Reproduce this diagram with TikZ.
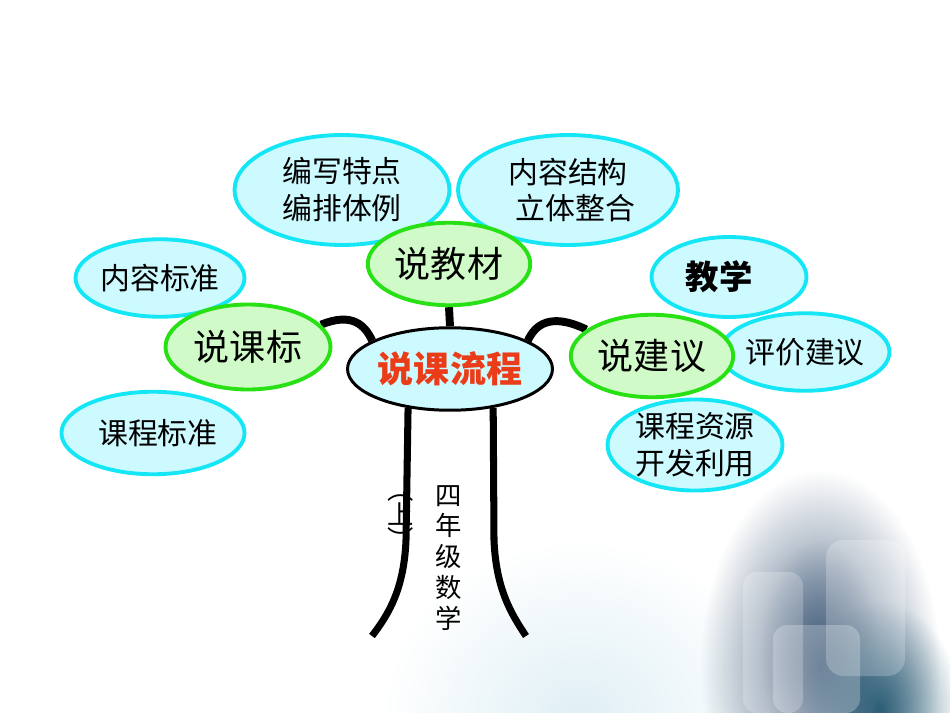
\documentclass[tikz,border=0pt]{standalone}
\usepackage{fontspec}
\usepackage{xcolor}
\newfontfamily\cjk{Noto Sans CJK SC}
\usetikzlibrary{shapes.geometric,fadings,backgrounds}
\definecolor{vien}{RGB}{20,230,245}
\definecolor{xanhnhat}{RGB}{205,250,255}
\definecolor{luc}{RGB}{40,225,20}
\definecolor{lucnhat}{RGB}{208,250,200}
\definecolor{dochu}{RGB}{235,60,25}
\definecolor{nen}{RGB}{70,95,125}
\definecolor{nendam}{RGB}{30,85,110}
\definecolor{nennhat}{RGB}{215,235,242}
\tikzfading[name=mo, inner color=transparent!0, outer color=transparent!100]

\begin{document}
\begin{tikzpicture}[x=0.02cm,y=-0.02cm,
	nhanh/.style={ellipse,draw=vien,fill=xanhnhat,line width=2.2pt,inner sep=0pt,align=center,
		font=\cjk\fontsize{17}{21}\selectfont},
	chinh/.style={ellipse,draw=luc,fill=lucnhat,line width=2.2pt,inner sep=0pt,
		font=\cjk\fontsize{20.5}{24}\selectfont},
	day/.style={line width=4.5pt}]
	\useasboundingbox (0,0) rectangle (950,713);
	% Các nhánh
	\node[nhanh,minimum width=4.3cm,minimum height=2.2cm] (bienviet) at (342,190)
		{\fontsize{17}{21}\selectfont 编写特点\\编排体例};
	\node[nhanh,minimum width=4.4cm,minimum height=2.2cm] (noidung) at (568,190)
		{\fontsize{17}{25}\selectfont 内容结构\\\hspace{0.3cm}立体整合};
	\node[chinh,minimum width=3.25cm,minimum height=1.65cm] (jiaocai) at (449,264) {说教材};
	\node[nhanh,minimum width=3.1cm,minimum height=1.55cm] (biaozhun) at (160,278) {内容标准};
	\node[chinh,minimum width=3.3cm,minimum height=1.7cm] (kebiao) at (248,347) {说课标};
	\node[nhanh,minimum width=3.4cm,minimum height=1.65cm] (kecheng) at (153,433) {\hspace{0.2cm}课程标准};
	\node[nhanh,minimum width=3.1cm,minimum height=1.6cm] (jiaoxue) at (729,277)
		{\hspace{-0.4cm}\bfseries\fontsize{19}{21}\selectfont 教学};
	\node[nhanh,minimum width=3.05cm,minimum height=1.55cm] (pingjia) at (805,352) {评价建议};
	\node[chinh,minimum width=3.25cm,minimum height=1.65cm] (jianyi) at (652,356) {说建议};
	\node[nhanh,minimum width=3.5cm,minimum height=1.8cm] (ziyuan) at (695,445)
		{\fontsize{17}{20}\selectfont 课程资源\\开发利用};
	\node[ellipse,draw=black,fill=xanhnhat,line width=1.7pt,inner sep=0pt,
		minimum width=4.1cm,minimum height=1.65cm,text=dochu,
		font=\cjk\bfseries\fontsize{20.5}{24}\selectfont] (liucheng) at (450,369) {说课流程};
	% Thân cây
	\coordinate (goctrai) at (372,636);
	\coordinate (gocphai) at (526,636);
	\begin{scope}[on background layer]
		% Nền
		\fill[nennhat, opacity=0.8, path fading=mo] (380,540) rectangle (780,900);
		\fill[nen, opacity=1, path fading=mo] (700,470) rectangle (940,860);
		\fill[nen, opacity=0.6, path fading=mo] (760,540) rectangle (880,760);
		\fill[nendam, opacity=0.9, path fading=mo] (800,600) rectangle (960,820);
		\fill[white, opacity=0.22, rounded corners=8] (743,572) rectangle (803,713);
		\fill[white, opacity=0.25, rounded corners=8] (773,625) rectangle (860,713);
		\fill[white, opacity=0.22, rounded corners=10] (826,540) rectangle (905,676);
		% Dây nối
		\draw[day] (kebiao.17) .. controls (352,312) and (365,325) .. (liucheng.160);
		\draw[day] (jianyi.158) .. controls (550,312) and (535,325) .. (liucheng.20);
		\draw[day] (jiaocai.south) -- (liucheng.north);
		\draw[line width=4pt] (liucheng.223) -- (406,540) .. controls (404,590) and (388,615) .. (goctrai);
		\draw[line width=4pt] (liucheng.318) -- (494,540) .. controls (496,590) and (512,615) .. (gocphai);
	\end{scope}
	% Chữ dọc
	\node[align=center,font=\cjk\fontsize{15}{17.6}\selectfont] (nianji) at (449,558) {四\\年\\级\\数\\学};
	\node[align=center,font=\cjk\fontsize{15}{14}\selectfont] (shang) at (401,522) {︵\\上\\︶};
\end{tikzpicture}
\end{document}
